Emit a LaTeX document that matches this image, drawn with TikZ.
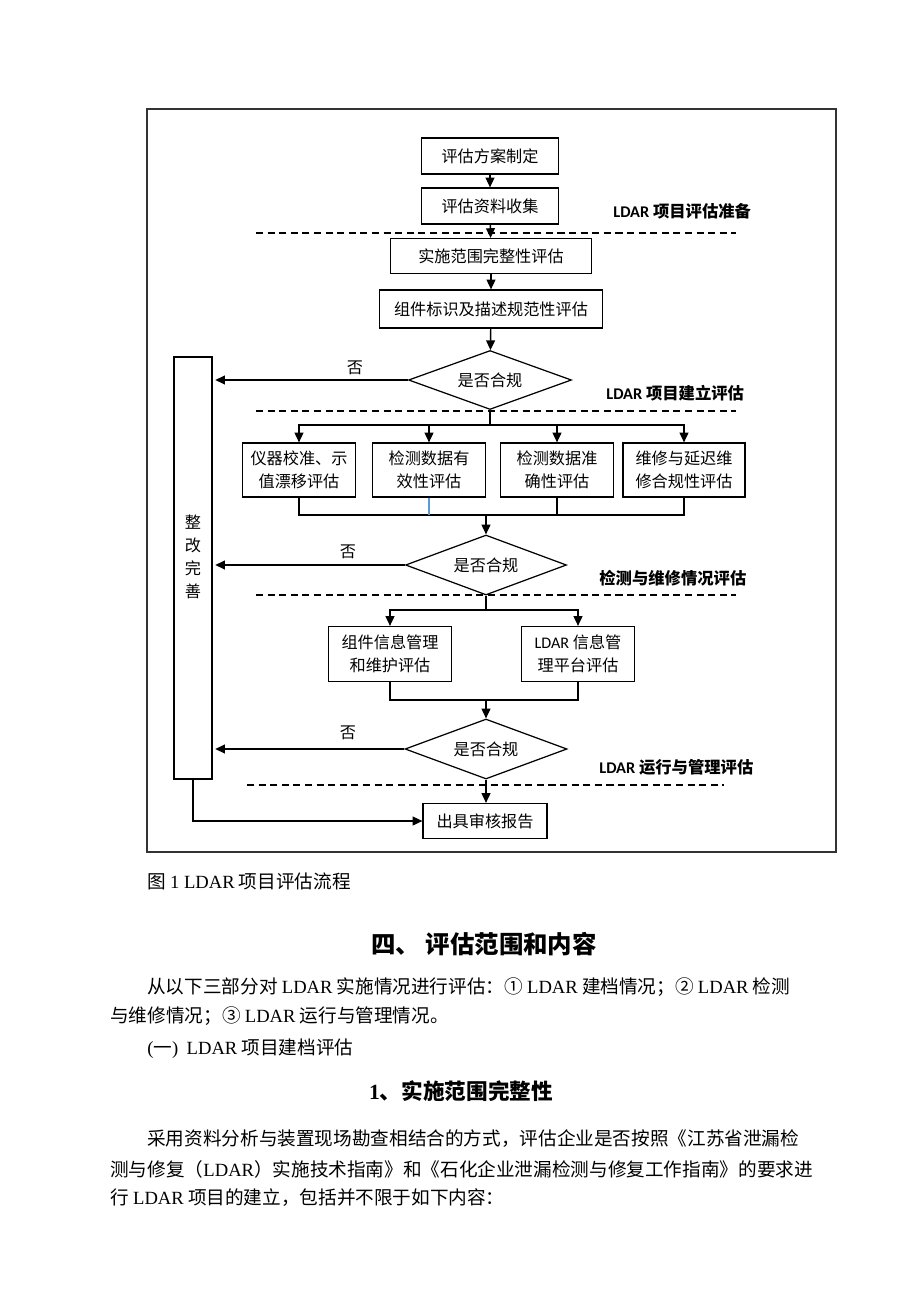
\documentclass[tikz,border=0pt]{standalone}
\usepackage{fontspec}
\setmainfont{Noto Sans CJK SC}
\newfontfamily\tnr{Liberation Serif}
\newfontfamily\carlito{Carlito}
\usetikzlibrary{arrows.meta,shapes.geometric}

\tikzset{
  box/.style={draw, line width=0.7pt, inner sep=0pt, align=center,
    font=\fontsize{9.2}{13}\selectfont},
  decide/.style={draw, line width=0.7pt, diamond, aspect=2.7, inner sep=0pt,
    font=\fontsize{9.2}{13}\selectfont},
  line/.style={line width=0.8pt},
  arr/.style={line width=0.8pt, -{Triangle[length=5.5pt,width=5pt]}},
  sep/.style={line width=1.1pt, dash pattern=on 4pt off 2.6pt},
  phase/.style={anchor=west, inner sep=0pt, font=\fontsize{9.3}{11}\bfseries},
  body/.style={anchor=west, inner sep=0pt, font=\fontsize{10.6}{12}\selectfont},
}

\begin{document}
\begin{tikzpicture}[x=0.02cm, y=-0.02cm]

  \fill[white] (0,0) rectangle (920,1302);
  \useasboundingbox (0,0) rectangle (920,1302);
  \draw[line width=0.6pt, black!80] (147,109) rectangle (836,852);

  % boxes
  \node[box, minimum width=2.74cm, minimum height=0.72cm] (plan) at (490,156) {评估方案制定};
  \node[box, minimum width=2.74cm, minimum height=0.72cm] (data) at (490,206) {评估资料收集};
  \node[box, minimum width=4.02cm, minimum height=0.70cm] (scope) at (491,256) {实施范围完整性评估};
  \node[box, minimum width=4.46cm, minimum height=0.76cm] (label) at (491,309) {组件标识及描述规范性评估};
  \node[decide, minimum width=3.26cm, minimum height=1.18cm] (d1) at (490,380) {是否合规};

  \node[box, minimum width=2.26cm, minimum height=1.08cm] (a) at (299,470) {仪器校准、示\\值漂移评估};
  \node[box, minimum width=2.26cm, minimum height=1.08cm] (b) at (429,470) {检测数据有\\效性评估};
  \node[box, minimum width=2.26cm, minimum height=1.08cm] (c) at (557,470) {检测数据准\\确性评估};
  \node[box, minimum width=2.44cm, minimum height=1.08cm] (d) at (684,470) {维修与延迟维\\修合规性评估};
  \node[decide, minimum width=3.22cm, minimum height=1.2cm] (d2) at (486,565) {是否合规};

  \node[box, minimum width=2.46cm, minimum height=1.1cm] (e) at (390,654) {组件信息管理\\和维护评估};
  \node[box, minimum width=2.26cm, minimum height=1.1cm] (f) at (578,654) {{\carlito LDAR} 信息管\\理平台评估};
  \node[decide, minimum width=3.24cm, minimum height=1.2cm] (d3) at (486,749) {是否合规};

  \node[box, minimum width=2.48cm, minimum height=0.7cm] (report) at (485,821) {出具审核报告};
  \node[box, minimum width=0.76cm, minimum height=8.44cm] (fix) at (193,568) {};
  \node[font=\fontsize{9.2}{13.2}\selectfont, align=center, inner sep=0pt] (fixtext) at (193,557) {整\\改\\完\\善};

  % phases
  \draw[sep] (256,233) -- (736,233);
  \draw[sep] (256,411) -- (736,411);
  \draw[sep] (256,595) -- (736,595);
  \draw[sep] (247,785) -- (724,785);
  \node[phase] (p1) at (613,211) {{\carlito LDAR} 项目评估准备};
  \node[phase] (p2) at (606,393) {{\carlito LDAR} 项目建立评估};
  \node[phase] (p3) at (599,578) {检测与维修情况评估};
  \node[phase] (p4) at (599,767) {{\carlito LDAR} 运行与管理评估};

  % flow
  \draw[arr] (plan) -- (data);
  \draw[arr] (data) -- (scope);
  \draw[arr] (scope) -- (label);
  \draw[arr] (label) -- (d1);

  \coordinate (s1) at (490,425);
  \draw[line] (d1.south) -- (s1);
  \draw[arr] (s1) -| (a.north);
  \draw[arr] (s1) -| (b.north);
  \draw[arr] (s1) -| (c.north);
  \draw[arr] (s1) -| (d.north);
  \coordinate (m1) at (486,515);
  \draw[line] (a.south) |- (d.south |- m1) -- (d.south);
  \draw[line] (c.south) -- (c.south |- m1);
  \draw[line, color={rgb,255:red,91;green,155;blue,213}] (b.south) -- (b.south |- m1);
  \draw[arr] (m1) -- (d2.north);

  \coordinate (s2) at (486,610);
  \draw[line] (d2.south) -- (s2);
  \draw[arr] (s2) -| (e.north);
  \draw[arr] (s2) -| (f.north);
  \coordinate (m2) at (486,700);
  \draw[line] (e.south) |- (f.south |- m2) -- (f.south);
  \draw[arr] (m2) -- (d3.north);
  \draw[arr] (d3.south) -- (d3.south |- report.north);

  \begin{scope}[every node/.style={font=\fontsize{9.2}{11}\selectfont, inner sep=0pt}]
    \draw[arr, shorten >=1.5pt] (d1.west) -- (d1.west -| fix.east);
    \node (no1) at (355,368) {否};
    \draw[arr, shorten >=1.5pt] (d2.west) -- (d2.west -| fix.east);
    \node (no2) at (348,552) {否};
    \draw[arr, shorten >=1.5pt] (d3.west) -- (d3.west -| fix.east);
    \node (no3) at (348,733) {否};
  \end{scope}
  \draw[arr] (fix.south) |- (report.west);

  % text below
  \node[body] (cap) at (147,881) {图 {\tnr 1 LDAR} 项目评估流程};
  \node[font=\fontsize{13.9}{16}\bfseries, inner sep=0pt] (head) at (484,944) {四、 评估范围和内容};
  \node[body] (l1) at (147,987) {从以下三部分对 {\tnr LDAR} 实施情况进行评估：① {\tnr LDAR} 建档情况；② {\tnr LDAR} 检测};
  \node[body] (l2) at (110,1016) {与维修情况；③ {\tnr LDAR} 运行与管理情况。};
  \node[body] (l3) at (147,1049) {{\tnr (}一{\tnr )}\ \ {\tnr LDAR} 项目建档评估};
  \node[font=\fontsize{12.3}{14}\bfseries, inner sep=0pt] (sub) at (461,1091) {{\tnr 1}、实施范围完整性};
  \node[body] (l4) at (147,1139) {采用资料分析与装置现场勘查相结合的方式，评估企业是否按照《江苏省泄漏检};
  \node[body] (l5) at (110,1169) {测与修复（{\tnr LDAR}）实施技术指南》和《石化企业泄漏检测与修复工作指南》的要求进};
  \node[body] (l6) at (110,1198) {行 {\tnr LDAR} 项目的建立，包括并不限于如下内容：};

\end{tikzpicture}
\end{document}
